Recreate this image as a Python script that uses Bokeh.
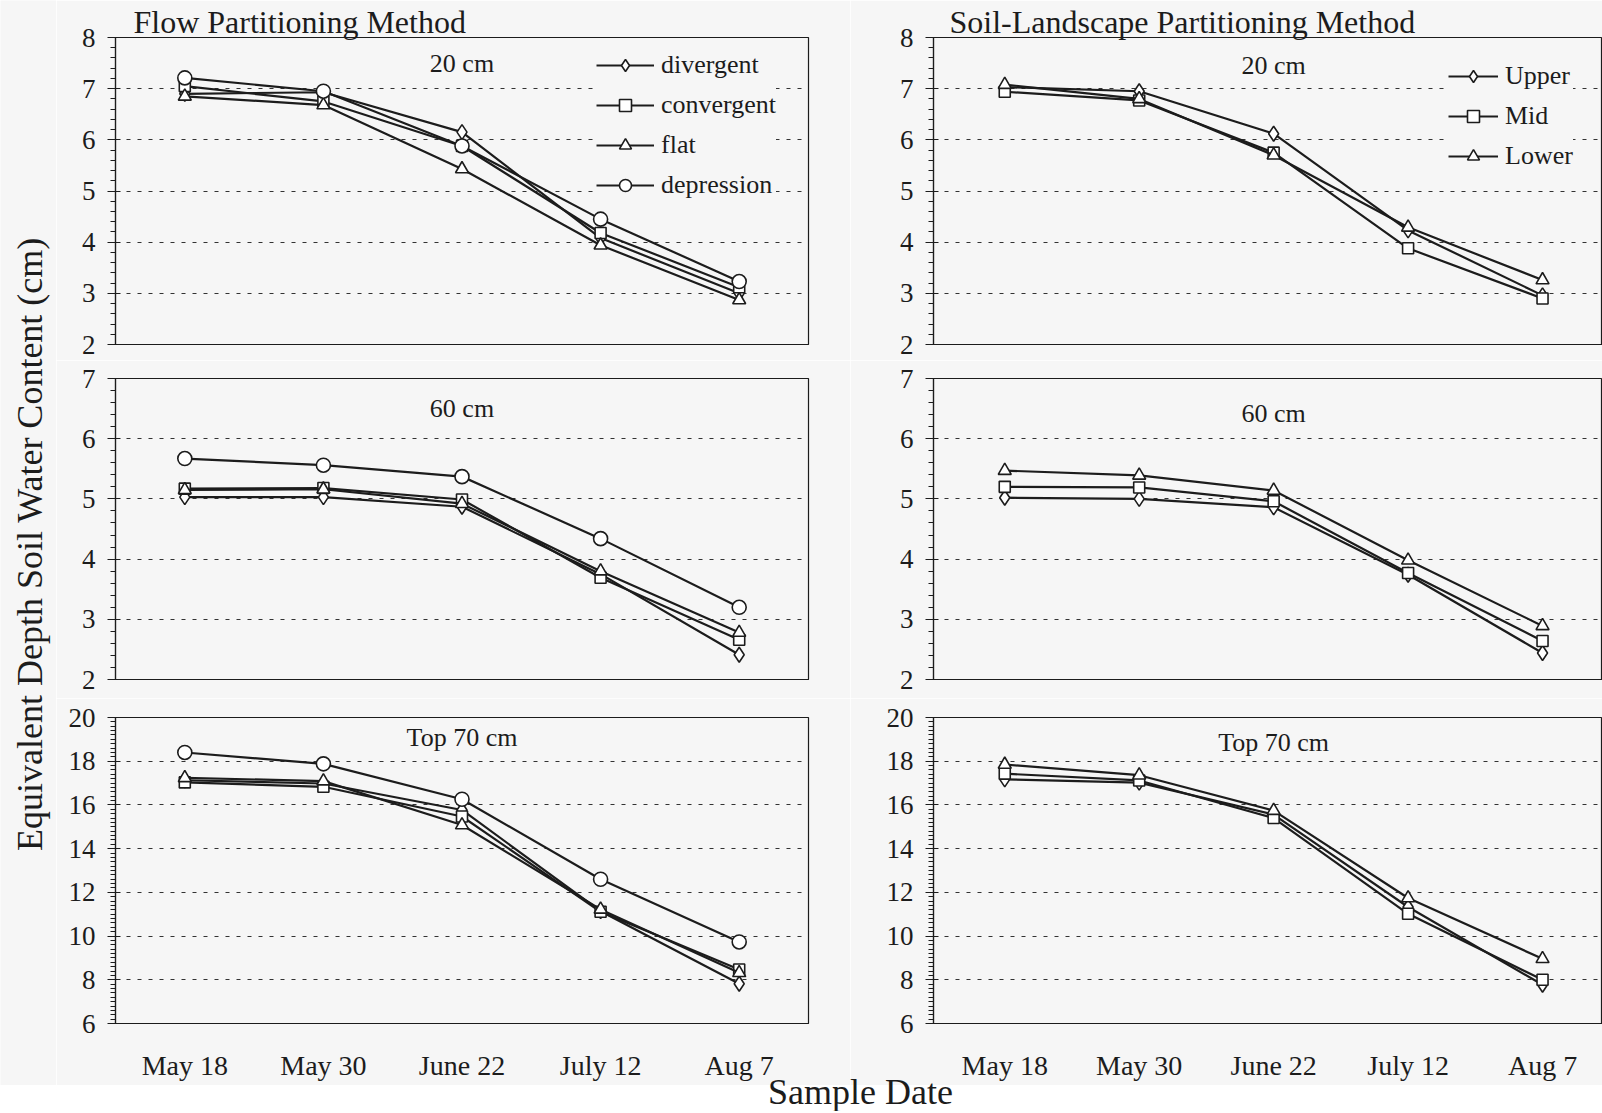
from bokeh.plotting import figure
from bokeh.models import (FixedTicker, SingleIntervalTicker, Label, Legend, LegendItem, Range1d)
from bokeh.layouts import row, column
from bokeh.embed import file_html
from bokeh.resources import INLINE

# ---------------- data ----------------
dates = ["May 18", "May 30", "June 22", "July 12", "Aug 7"]

flow_names = ["divergent", "convergent", "flat", "depression"]
soil_names = ["Upper", "Mid", "Lower"]

# Flow partitioning method
flow20_divergent = [6.90, 6.93, 6.15, 4.08, 3.00]
flow20_convergent = [7.05, 6.75, 5.88, 4.18, 3.12]
flow20_flat = [6.85, 6.68, 5.43, 3.94, 2.87]
flow20_depression = [7.21, 6.95, 5.88, 4.45, 3.23]

flow60_divergent = [5.03, 5.03, 4.87, 3.75, 2.41]
flow60_convergent = [5.17, 5.18, 4.99, 3.69, 2.66]
flow60_flat = [5.15, 5.16, 4.92, 3.80, 2.78]
flow60_depression = [5.67, 5.56, 5.37, 4.34, 3.20]

flow70_divergent = [17.13, 16.98, 15.77, 11.14, 7.82]
flow70_convergent = [17.03, 16.83, 15.47, 11.11, 8.47]
flow70_flat = [17.24, 17.09, 15.08, 11.22, 8.32]
flow70_depression = [18.40, 17.88, 16.26, 12.60, 9.73]

# Soil-landscape partitioning method
soil20_upper = [7.03, 6.95, 6.12, 4.23, 2.96]
soil20_mid = [6.94, 6.77, 5.75, 3.88, 2.90]
soil20_lower = [7.08, 6.80, 5.70, 4.29, 3.26]

soil60_upper = [5.02, 5.00, 4.86, 3.74, 2.44]
soil60_mid = [5.20, 5.19, 4.96, 3.77, 2.64]
soil60_lower = [5.47, 5.39, 5.14, 3.98, 2.89]

soil70_upper = [17.17, 17.02, 15.56, 11.33, 7.77]
soil70_mid = [17.43, 17.12, 15.40, 11.02, 8.00]
soil70_lower = [17.85, 17.36, 15.74, 11.74, 8.96]

panel_labels = ["20 cm", "60 cm", "Top 70 cm"]
method_titles = ["Flow Partitioning Method", "Soil-Landscape Partitioning Method"]
y_title = "Equivalent Depth  Soil Water Content (cm)"
x_title = "Sample Date"

# ---------------- style ----------------
FONT = "Liberation Serif"
INK = "#1c1c1c"
BG = "#f6f6f6"
MARK = {"divergent": "diamond", "convergent": "square", "flat": "triangle", "depression": "circle",
        "Upper": "diamond", "Mid": "square", "Lower": "triangle"}
MSIZE = {"diamond": 15, "square": 11, "triangle": 13, "circle": 14}

xs = list(range(len(dates)))
overrides = {i: d for i, d in enumerate(dates)}

YT_W, LEFT_W, RIGHT_W = 56, 794, 752
rows_geom = [  # (min_border_top, frame_h, min_border_bottom)
    (37, 307, 16),
    (18, 301, 19),
    (19, 306, 62),
]
yspec = [(2, 8, 1, 5), (2, 7, 1, 5), (6, 20, 2, 10)]


def make_panel(side, r, series, names, label_off, title=None, title_dx=0,
               legend_loc=None, glyph_w=55):
    top, fh, bot = rows_geom[r]
    ymin, ymax, step, nminor = yspec[r]
    if side == "L":
        width, mbl, mbr, xr = LEFT_W, 59, 42, Range1d(-0.5, 4.5)
    else:
        width, mbl, mbr, xr = RIGHT_W, 83, 0, Range1d(-0.53, 4.446)
    p = figure(width=width, height=top + fh + bot, x_range=xr, y_range=Range1d(ymin, ymax),
               output_backend="svg", toolbar_location=None,
               min_border_left=mbl, min_border_right=mbr, min_border_top=top, min_border_bottom=bot,
               background_fill_color=BG, border_fill_color=BG)
    p.outline_line_color = INK
    p.outline_line_width = 1.2
    p.xgrid.visible = False
    # y axis
    p.yaxis.ticker = SingleIntervalTicker(interval=step, num_minor_ticks=nminor)
    p.yaxis.axis_line_color = INK
    p.yaxis.axis_line_width = 1.2
    p.yaxis.major_tick_line_color = INK
    p.yaxis.minor_tick_line_color = INK
    p.yaxis.major_tick_out = 8
    p.yaxis.major_tick_in = 5
    p.yaxis.minor_tick_out = 5
    p.yaxis.minor_tick_in = 0
    p.yaxis.major_label_standoff = 12
    p.yaxis.major_label_text_font = FONT
    p.yaxis.major_label_text_font_size = "27px"
    p.yaxis.major_label_text_color = INK
    p.ygrid.grid_line_color = "#333333"
    p.ygrid.grid_line_dash = "4 7"
    p.ygrid.grid_line_width = 1
    # x axis
    p.xaxis.axis_line_color = INK
    p.xaxis.axis_line_width = 1.2
    p.xaxis.major_tick_line_color = None
    p.xaxis.minor_tick_line_color = None
    if r == 2:
        p.xaxis.ticker = FixedTicker(ticks=xs)
        p.xaxis.major_label_overrides = overrides
        p.xaxis.major_label_text_font = FONT
        p.xaxis.major_label_text_font_size = "28px"
        p.xaxis.major_label_text_color = INK
        p.xaxis.major_label_standoff = 20
    else:
        p.xaxis.ticker = FixedTicker(ticks=[])
        p.xaxis.major_label_standoff = 0

    items = []
    for name, ys in zip(names, series):
        ln = p.line(xs, ys, line_color=INK, line_width=2.2)
        mk = MARK[name]
        sc = p.scatter(xs, ys, marker=mk, size=MSIZE[mk], fill_color="white",
                       line_color=INK, line_width=1.6)
        items.append(LegendItem(label=name, renderers=[ln, sc]))

    p.add_layout(Label(x=2, y=ymax, y_offset=-label_off, text=panel_labels[r],
                       text_align="center", text_baseline="middle", text_font=FONT,
                       text_font_size="26px", text_color=INK))
    if title:
        p.title.text = title
        p.title.align = "left"
        p.title.offset = title_dx
        p.title.standoff = -4
        p.title.text_font = FONT
        p.title.text_font_size = "32px"
        p.title.text_font_style = "normal"
        p.title.text_color = INK
    if legend_loc is not None:
        lg = Legend(items=items, location=legend_loc, orientation="vertical",
                    glyph_width=glyph_w, glyph_height=30, label_height=30, label_standoff=7,
                    spacing=10, padding=6, margin=0, border_line_color=None,
                    background_fill_color=BG, background_fill_alpha=1.0,
                    label_text_font=FONT, label_text_font_size="26px", label_text_color=INK)
        p.add_layout(lg)
    return p


L1 = make_panel("L", 0, [flow20_divergent, flow20_convergent, flow20_flat, flow20_depression],
                flow_names, 26, title=method_titles[0], title_dx=18,
                legend_loc=(481, 144), glyph_w=58)
L2 = make_panel("L", 1, [flow60_divergent, flow60_convergent, flow60_flat, flow60_depression],
                flow_names, 30)
L3 = make_panel("L", 2, [flow70_divergent, flow70_convergent, flow70_flat, flow70_depression],
                flow_names, 20)
R1 = make_panel("R", 0, [soil20_upper, soil20_mid, soil20_lower], soil_names, 28,
                title=method_titles[1], title_dx=16, legend_loc=(515, 173), glyph_w=50)
R2 = make_panel("R", 1, [soil60_upper, soil60_mid, soil60_lower], soil_names, 35)
R3 = make_panel("R", 2, [soil70_upper, soil70_mid, soil70_lower], soil_names, 25)

# y-axis title strip
total_h = sum(a + b + c for a, b, c in rows_geom)
yt = figure(width=YT_W, height=total_h, x_range=Range1d(0, YT_W), y_range=Range1d(0, total_h),
            output_backend="svg", toolbar_location=None, x_axis_location=None, y_axis_location=None,
            min_border=0, background_fill_color=BG, border_fill_color=BG)
yt.outline_line_color = None
yt.grid.visible = False
yt.add_layout(Label(x=29, y=total_h - 539, text=y_title, angle=90, angle_units="deg",
                    text_align="center", text_baseline="middle", text_font=FONT,
                    text_font_size="36px", text_color=INK))

# x-axis title strip (overlaps the bottom row slightly)
xt_w = LEFT_W + RIGHT_W
xt_h = 56
xt = figure(width=xt_w, height=xt_h, x_range=Range1d(0, xt_w), y_range=Range1d(0, xt_h),
            output_backend="svg", toolbar_location=None, x_axis_location=None, y_axis_location=None,
            min_border=0, background_fill_color=None, border_fill_color=None, margin=(-30, 0, 0, 0))
xt.outline_line_color = None
xt.grid.visible = False
xt.add_layout(Label(x=860 - YT_W, y=20, text=x_title, text_align="center", text_baseline="middle",
                    text_font=FONT, text_font_size="36px", text_color=INK))

layout = row(yt, column(row(L1, R1), row(L2, R2), row(L3, R3), xt))

open("out.html", "w").write(file_html(layout, INLINE))
